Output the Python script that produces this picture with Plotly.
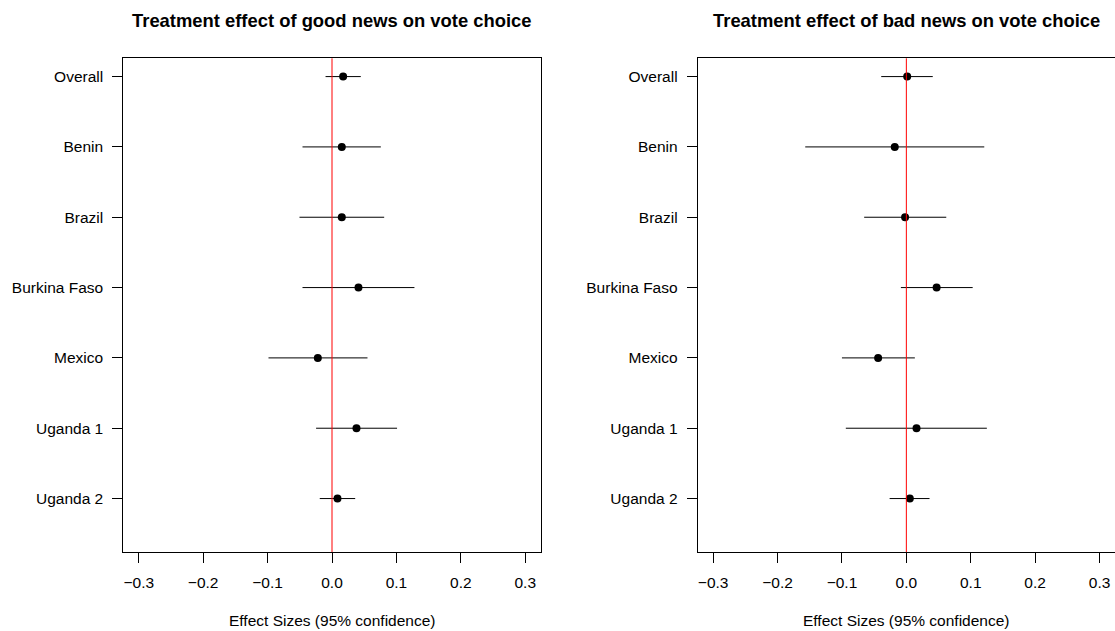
import plotly.graph_objects as go

categories = ["Overall", "Benin", "Brazil", "Burkina Faso", "Mexico", "Uganda 1", "Uganda 2"]
ypos = [7, 6, 5, 4, 3, 2, 1]

good_est = [0.0173, 0.0152, 0.0152, 0.0411, -0.0220, 0.0380, 0.0085]
good_lo = [-0.0100, -0.0458, -0.0505, -0.0458, -0.0986, -0.0247, -0.0190]
good_hi = [0.0447, 0.0758, 0.0810, 0.1280, 0.0551, 0.1010, 0.0360]

bad_est = [0.0013, -0.0180, -0.0020, 0.0470, -0.0438, 0.0158, 0.0054]
bad_lo = [-0.0390, -0.1570, -0.0655, -0.0085, -0.1000, -0.0940, -0.0260]
bad_hi = [0.0410, 0.1210, 0.0620, 0.1030, 0.0132, 0.1250, 0.0360]

xticks = [-0.3, -0.2, -0.1, 0.0, 0.1, 0.2, 0.3]
xticktext = ["\u22120.3", "\u22120.2", "\u22120.1", "0.0", "0.1", "0.2", "0.3"]

titles = ["Treatment effect of good news on vote choice",
          "Treatment effect of bad news on vote choice"]
xlabel = "Effect Sizes (95% confidence)"

FONT = "Liberation Sans, Arial, sans-serif"
W, H = 1115, 631

fig = go.Figure()

panels = [
    (good_est, good_lo, good_hi, "x", "y"),
    (bad_est, bad_lo, bad_hi, "x2", "y2"),
]
for est, lo, hi, xa, ya in panels:
    fig.add_trace(go.Scatter(
        x=est, y=ypos, xaxis=xa, yaxis=ya, mode="markers",
        marker=dict(color="black", size=8),
        error_x=dict(type="data", symmetric=False,
                     array=[h - e for h, e in zip(hi, est)],
                     arrayminus=[e - l for e, l in zip(est, lo)],
                     color="black", thickness=1, width=0),
        showlegend=False, hoverinfo="skip",
    ))

doms = [[123.3 / W, 540.7 / W], [697.7 / W, 1.0]]
ydom = [1 - 552 / H, 1 - 58.3 / H]

axcommon = dict(showline=True, linecolor="black", linewidth=1, mirror=True,
                ticks="outside", ticklen=10, tickcolor="black", tickwidth=1,
                showgrid=False, zeroline=False,
                tickfont=dict(family=FONT, size=15.5, color="black"))

xrange = [-0.324, 0.324]
yrange = [0.24, 7.26]

fig.update_layout(
    width=W, height=H, margin=dict(l=0, r=0, t=0, b=0),
    plot_bgcolor="white", paper_bgcolor="white",
    xaxis=dict(domain=doms[0], range=xrange, tickvals=xticks, ticktext=xticktext,
               anchor="y", ticklabelstandoff=6, **axcommon),
    yaxis=dict(domain=ydom, range=yrange, tickvals=ypos, ticktext=categories,
               anchor="x", ticklabelstandoff=6, **axcommon),
    xaxis2=dict(domain=doms[1], range=xrange, tickvals=xticks, ticktext=xticktext,
                anchor="y2", ticklabelstandoff=6, **axcommon),
    yaxis2=dict(domain=ydom, range=yrange, tickvals=ypos, ticktext=categories,
                anchor="x2", ticklabelstandoff=6, **axcommon),
)

for i, (xa, ya) in enumerate([("x", "y"), ("x2", "y2")]):
    fig.add_shape(type="line", xref=xa, yref=ya + " domain", x0=0, x1=0, y0=0, y1=1,
                  line=dict(color="red", width=1), layer="above")
    cx = (doms[i][0] + doms[i][1]) / 2 if i == 0 else (697.7 + 1115.3) / 2 / W
    fig.add_annotation(text="<b>" + titles[i] + "</b>", xref="paper", yref="paper",
                       x=cx, y=1 - 21 / H, xanchor="center", yanchor="middle",
                       showarrow=False, font=dict(family=FONT, size=18.4, color="black"))
    fig.add_annotation(text=xlabel, xref="paper", yref="paper",
                       x=cx, y=1 - 620 / H, xanchor="center", yanchor="middle",
                       showarrow=False, font=dict(family=FONT, size=15.5, color="black"))

fig.write_html("out.html",
               config={"displayModeBar": False, "staticPlot": True},
               post_script="document.body.style.margin='0';document.body.style.overflow='hidden';")
